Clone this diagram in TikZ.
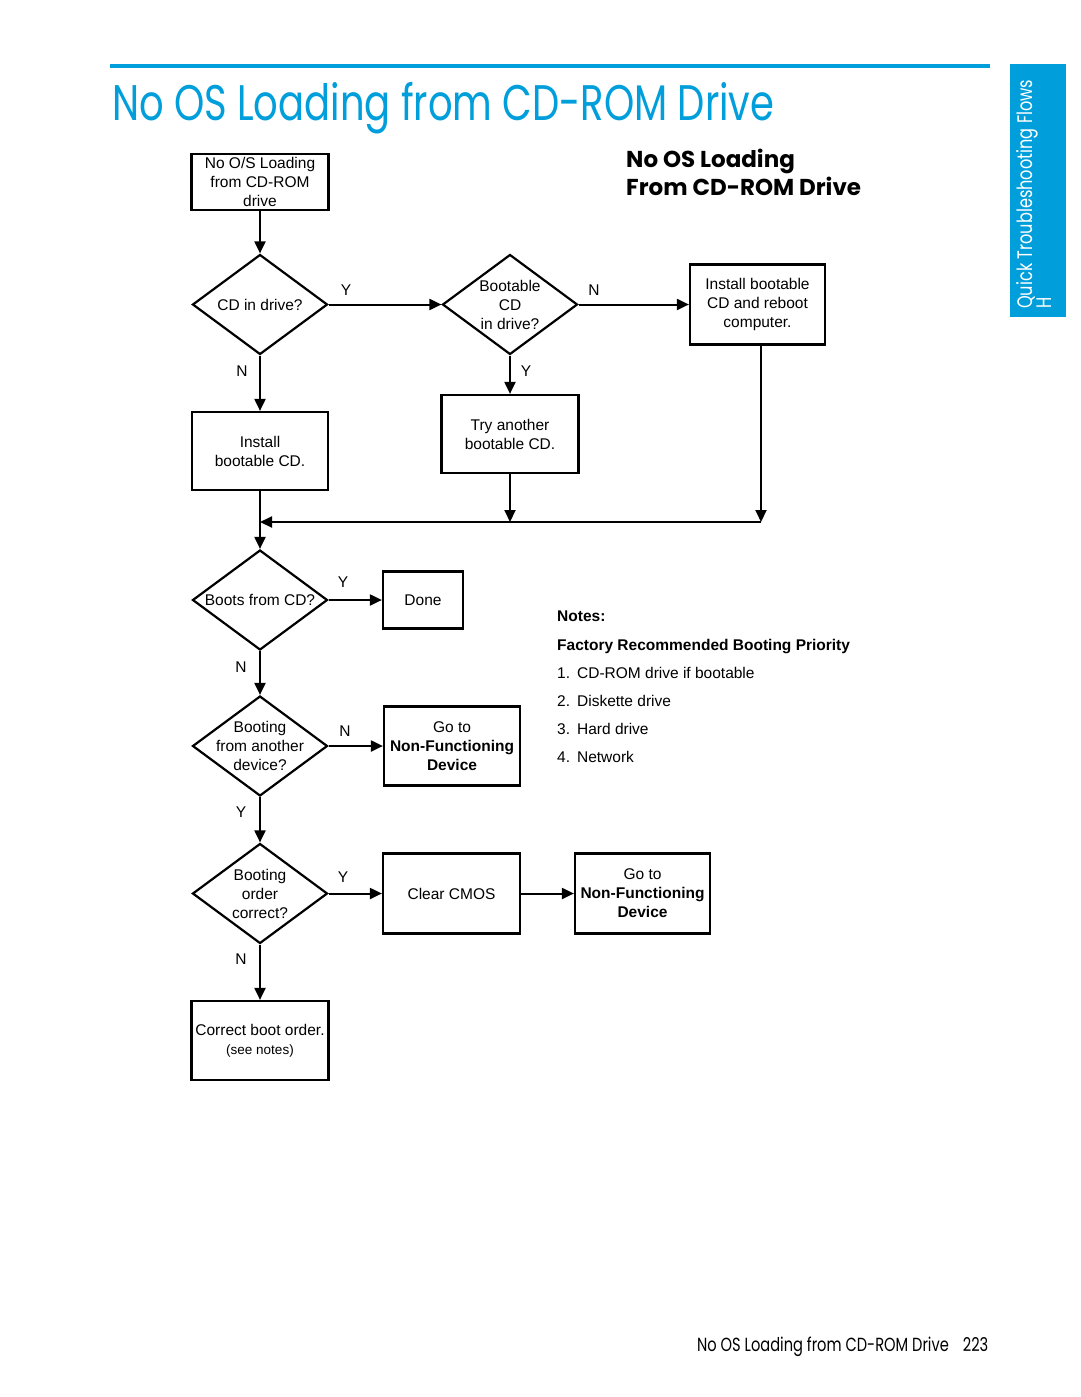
\documentclass[tikz,border=0pt]{standalone}
\usepackage{fontspec}
\setmainfont{Liberation Sans}
\newfontfamily\hpfont[FakeStretch=0.77]{Poppins}
\newfontfamily\hpwide{Poppins}
\usetikzlibrary{shapes.geometric,arrows.meta}
\definecolor{hpblue}{RGB}{0,158,219}

\begin{document}
\begin{tikzpicture}[x=1pt,y=-1pt,
	box/.style={draw,line width=2.2pt,align=center,inner sep=0pt,font=\fontsize{15.5}{19}\selectfont},
	decide/.style={diamond,draw,line width=2.2pt,inner sep=0pt,minimum width=135pt,minimum height=100pt},
	txt/.style={align=center,font=\fontsize{15.5}{19}\selectfont},
	lab/.style={font=\fontsize{15.5}{19}\selectfont},
	arr/.style={line width=2pt,-{Triangle[length=12pt,width=11pt]}},
	plain/.style={line width=2pt}]
		\useasboundingbox (0,0) rectangle (1080,1397);
		% page frame
		\fill [hpblue] (110,64) rectangle (990,68);
		\node [anchor=base west,inner sep=0pt,text=hpblue,font=\hpfont\fontsize{50}{50}\selectfont] at (112,120) (title) {No OS Loading from CD-ROM Drive};
		\fill [hpblue] (1010,64) rectangle (1066,317);
		\node [anchor=base west,rotate=90,inner sep=0pt,text=white,font=\hpfont\fontsize{21}{21}\selectfont] at (1032,309) (tab) {Quick Troubleshooting Flows};
		\node [anchor=base west,rotate=90,inner sep=0pt,text=white,font=\hpfont\fontsize{21}{21}\selectfont] at (1051,309) (tabh) {H};
		\node [anchor=base west,inner sep=0pt,font=\hpfont\fontsize{19}{19}\selectfont] at (697,1351) (foot) {No OS Loading from CD-ROM Drive\hspace{14pt}223};
		\node [anchor=base west,inner sep=0pt,font=\hpwide\bfseries\fontsize{23}{23}\selectfont] at (626,167) (head1) {No OS Loading};
		\node [anchor=base west,inner sep=0pt,font=\hpwide\bfseries\fontsize{23}{23}\selectfont] at (626,195) (head2) {From CD-ROM Drive};

		% flow
		\node [box,minimum width=137pt,minimum height=56pt] at (260,182) (1) {No O/S Loading\\from CD-ROM\\drive};
		\node [decide,label={[txt]center:CD in drive?}] at (260,304.5) (2) {};
		\node [decide,label={[txt]center:Bootable\\CD\\in drive?}] at (510,304.5) (3) {};
		\node [box,minimum width=135pt,minimum height=80pt] at (757.5,304.5) (4) {Install bootable\\CD and reboot\\computer.};
		\node [box,minimum width=136pt,minimum height=78pt] at (260,451) (5) {Install\\bootable CD.};
		\node [box,minimum width=137pt,minimum height=78pt] at (510,434) (6) {Try another\\bootable CD.};
		\coordinate (m1) at (761,522);
		\coordinate (m2) at (510,522);
		\coordinate (m0) at (260,522);
		\node [decide,label={[txt]center:Boots from CD?}] at (260,600) (7) {};
		\node [box,minimum width=80pt,minimum height=57pt] at (423,600) (8) {Done};
		\node [decide,label={[txt]center:Booting\\from another\\device?}] at (260,746) (9) {};
		\node [box,minimum width=136pt,minimum height=79pt] at (452,746) (10) {Go to\\\textbf{Non-Functioning}\\\textbf{Device}};
		\node [decide,label={[txt]center:Booting\\order\\correct?}] at (260,893.5) (11) {};
		\node [box,minimum width=137pt,minimum height=80pt] at (451.5,893.5) (12) {Clear CMOS};
		\node [box,minimum width=135pt,minimum height=80pt] at (642.5,893.5) (13) {Go to\\\textbf{Non-Functioning}\\\textbf{Device}};
		\node [box,minimum width=137pt,minimum height=79pt] at (260,1040.5) (14) {Correct boot order.\\{\fontsize{13.5}{17}\selectfont(see notes)}};

		\draw [arr] (1) -- (2);
		\draw [arr] (2) -- (3);
		\draw [arr] (3) -- (4);
		\draw [arr] (2) -- (5);
		\draw [arr] (3) -- (6);
		\draw [arr] (4.south -| m1) -- (m1);
		\draw [arr] (6) -- (m2);
		\draw [arr] (m1) -- (m0);
		\draw [plain] (5) -- (m0);
		\draw [arr] (m0) -- (7);
		\draw [arr] (7) -- (8);
		\draw [arr] (7) -- (9);
		\draw [arr] (9) -- (10);
		\draw [arr] (9) -- (11);
		\draw [arr] (11) -- (12);
		\draw [arr] (12) -- (13);
		\draw [arr] (11) -- (14);

		% branch labels
		\node [lab] at (346,290) (y1) {Y};
		\node [lab] at (594,290) (n1) {N};
		\node [lab] at (242,371) (n2) {N};
		\node [lab] at (526,371) (y2) {Y};
		\node [lab] at (343,582) (y3) {Y};
		\node [lab] at (241,667) (n3) {N};
		\node [lab] at (345,731) (n4) {N};
		\node [lab] at (241,812) (y4) {Y};
		\node [lab] at (343,877) (y5) {Y};
		\node [lab] at (241,959) (n5) {N};

		% notes
		\node [anchor=base west,inner sep=0pt,font=\bfseries\fontsize{15.5}{19}\selectfont] at (557,621) (notes) {Notes:};
		\node [anchor=base west,inner sep=0pt,font=\bfseries\fontsize{15.5}{19}\selectfont] at (557,650) (prio) {Factory Recommended Booting Priority};
		\foreach \n/\t [count=\i] in {1/CD-ROM drive if bootable,2/Diskette drive,3/Hard drive,4/Network}
			\node [anchor=base west,inner sep=0pt,font=\fontsize{15.5}{19}\selectfont] at (557,650+28*\i) (note\i) {\n.\hspace{7pt}\t};
	\end{tikzpicture}
\end{document}
